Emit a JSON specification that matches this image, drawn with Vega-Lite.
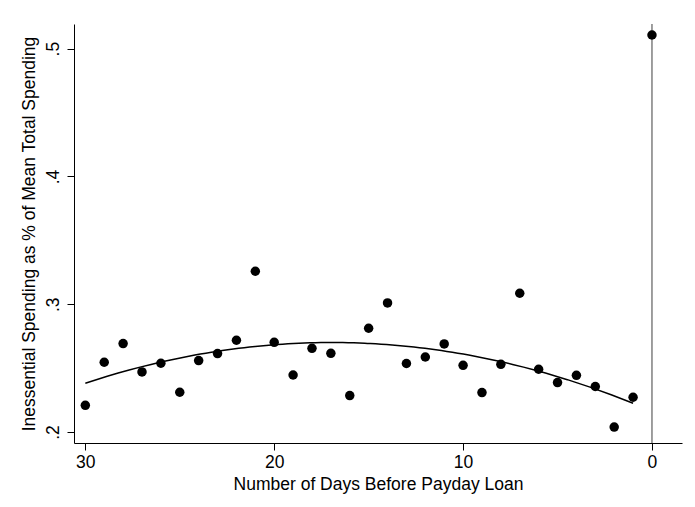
{
  "$schema": "https://vega.github.io/schema/vega-lite/v6.json",
  "width": 608,
  "height": 419,
  "autosize": {"type": "none"},
  "padding": {"left": 74, "top": 24, "right": 13, "bottom": 64},
  "background": "white",
  "config": {
    "font": "Liberation Sans",
    "view": {"stroke": null},
    "axis": {
      "grid": false,
      "domainColor": "#000000",
      "domainWidth": 1,
      "tickColor": "#000000",
      "tickWidth": 1,
      "tickSize": 7,
      "labelColor": "#000000",
      "titleColor": "#000000",
      "labelFont": "Liberation Sans",
      "titleFont": "Liberation Sans",
      "labelFontSize": 17.5,
      "titleFontSize": 17.5,
      "titleFontWeight": "normal"
    }
  },
  "data": {
    "values": [
      {"day": 30, "share": 0.2209},
      {"day": 29, "share": 0.2546},
      {"day": 28, "share": 0.2692},
      {"day": 27, "share": 0.2470},
      {"day": 26, "share": 0.2538},
      {"day": 25, "share": 0.2311},
      {"day": 24, "share": 0.2559},
      {"day": 23, "share": 0.2614},
      {"day": 22, "share": 0.2718},
      {"day": 21, "share": 0.3258},
      {"day": 20, "share": 0.2702},
      {"day": 19, "share": 0.2446},
      {"day": 18, "share": 0.2655},
      {"day": 17, "share": 0.2616},
      {"day": 16, "share": 0.2285},
      {"day": 15, "share": 0.2812},
      {"day": 14, "share": 0.3010},
      {"day": 13, "share": 0.2536},
      {"day": 12, "share": 0.2587},
      {"day": 11, "share": 0.2689},
      {"day": 10, "share": 0.2522},
      {"day": 9, "share": 0.2309},
      {"day": 8, "share": 0.2530},
      {"day": 7, "share": 0.3086},
      {"day": 6, "share": 0.2491},
      {"day": 5, "share": 0.2387},
      {"day": 4, "share": 0.2444},
      {"day": 3, "share": 0.2356},
      {"day": 2, "share": 0.2039},
      {"day": 1, "share": 0.2272},
      {"day": 0, "share": 0.5107}
    ]
  },
  "encoding": {
    "x": {
      "field": "day",
      "type": "quantitative",
      "scale": {"domain": [-1.59, 30.6], "reverse": true, "nice": false, "zero": false},
      "axis": {
        "title": "Number of Days Before Payday Loan",
        "values": [0, 10, 20, 30],
        "labelPadding": 3,
        "titlePadding": 5
      }
    },
    "y": {
      "field": "share",
      "type": "quantitative",
      "scale": {"domain": [0.1914, 0.5193], "nice": false, "zero": false},
      "axis": {
        "title": "Inessential Spending as % of Mean Total Spending",
        "values": [0.2, 0.3, 0.4, 0.5],
        "labelExpr": "slice(format(datum.value, '.1f'), 1)",
        "labelAngle": -90,
        "labelPadding": 5,
        "titlePadding": 6
      }
    }
  },
  "layer": [
    {
      "data": {"values": [{"day": 0}]},
      "mark": {"type": "rule", "color": "#7f7f7f", "strokeWidth": 1.5},
      "encoding": {"x": {"field": "day", "type": "quantitative"}, "y": null}
    },
    {
      "transform": [
        {"filter": "datum.day >= 1"},
        {"regression": "share", "on": "day", "method": "poly", "order": 2}
      ],
      "mark": {"type": "line", "color": "#000000", "strokeWidth": 1.5},
      "encoding": {}
    },
    {
      "mark": {"type": "circle", "color": "#000000", "opacity": 1, "size": 90},
      "encoding": {}
    }
  ]
}
